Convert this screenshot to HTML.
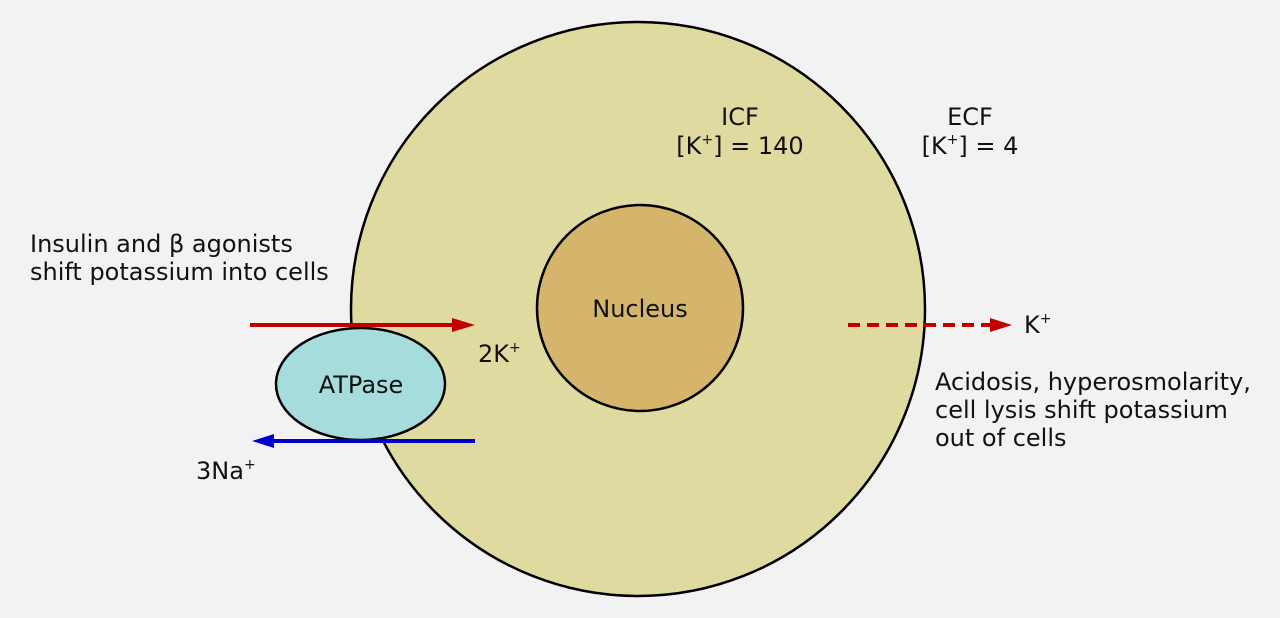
<!DOCTYPE html>
<html><head><style>
body{margin:0;width:1280px;height:618px;background:#f2f2f2;overflow:hidden}
svg{display:block}
text{font-family:"DejaVu Sans","Liberation Sans",sans-serif;fill:#111}
</style></head><body>
<svg width="1280" height="618" viewBox="0 0 1280 618">
<circle cx="638" cy="309" r="287" fill="#dfdba0" stroke="#000" stroke-width="2.5"/>
<circle cx="640" cy="308" r="103" fill="#d5b56c" stroke="#000" stroke-width="2.5"/>
<ellipse cx="360.5" cy="384" rx="84.5" ry="56" fill="#a6dddc" stroke="#000" stroke-width="2.5"/>
<line x1="250" y1="325" x2="455" y2="325" stroke="#c00000" stroke-width="4"/>
<polygon points="452,318 475,325 452,332" fill="#c00000"/>
<line x1="272" y1="441" x2="475" y2="441" stroke="#0000cc" stroke-width="4"/>
<polygon points="274,434 252,441 274,448" fill="#0000cc"/>
<line x1="848" y1="325" x2="995" y2="325" stroke="#c00000" stroke-width="4" stroke-dasharray="12,7"/>
<polygon points="990,318 1012,325 990,332" fill="#c00000"/>
<g font-size="24">
<text x="640" y="317" text-anchor="middle">Nucleus</text>
<text x="361" y="393" text-anchor="middle">ATPase</text>
<text x="478" y="362">2K<tspan font-size="14" dy="-10">+</tspan></text>
<text x="196" y="479">3Na<tspan font-size="14" dy="-10">+</tspan></text>
<text x="1024" y="333">K<tspan font-size="14" dy="-10">+</tspan></text>
<text x="740" y="125" text-anchor="middle">ICF</text>
<text x="740" y="154" text-anchor="middle">[K<tspan font-size="14" dy="-10">+</tspan><tspan dy="10">] = 140</tspan></text>
<text x="970" y="125" text-anchor="middle">ECF</text>
<text x="970" y="154" text-anchor="middle">[K<tspan font-size="14" dy="-10">+</tspan><tspan dy="10">] = 4</tspan></text>
<text x="30" y="252">Insulin and β agonists</text>
<text x="30" y="280">shift potassium into cells</text>
<text x="935" y="390">Acidosis, hyperosmolarity,</text>
<text x="935" y="418">cell lysis shift potassium</text>
<text x="935" y="446">out of cells</text>
</g>
</svg>
</body></html>
